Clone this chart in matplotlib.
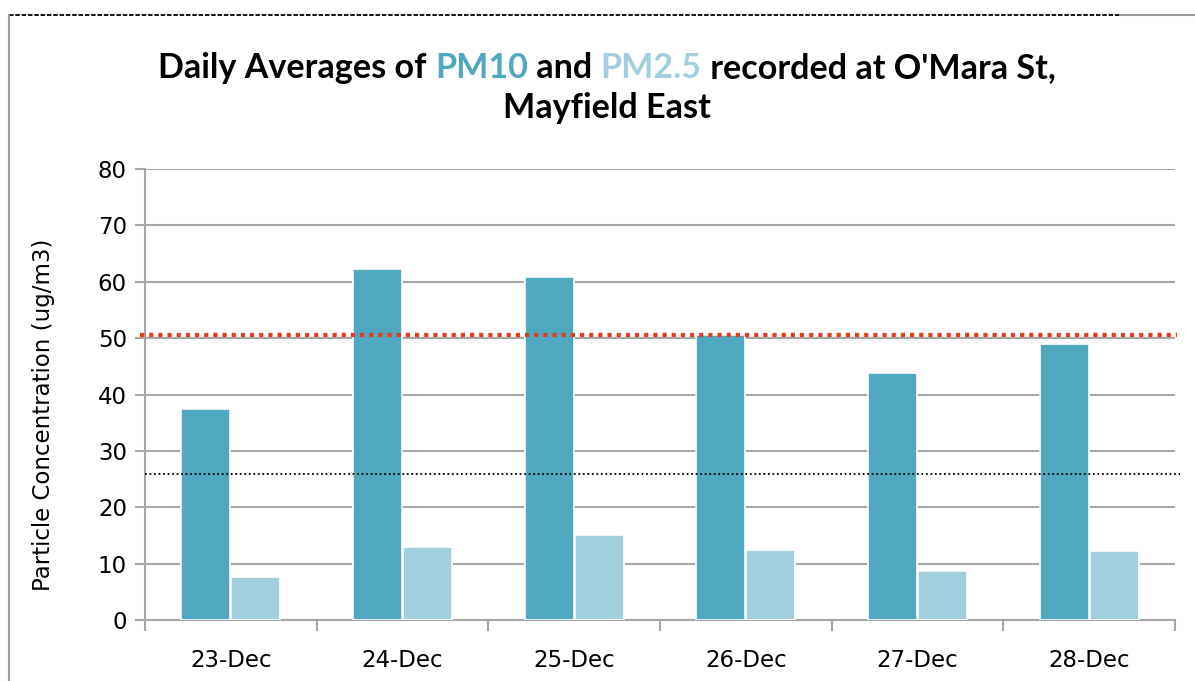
import matplotlib
matplotlib.use('Agg')
import matplotlib.pyplot as plt
from matplotlib.lines import Line2D
import numpy as np

days = ["23-Dec", "24-Dec", "25-Dec", "26-Dec", "27-Dec", "28-Dec"]
pm10 = [37.4, 62.2, 60.8, 50.5, 43.8, 48.9]
pm25 = [7.6, 12.9, 15.1, 12.4, 8.7, 12.2]
pm10_limit = 50.6
pm25_limit = 25.9
yticks = [0, 10, 20, 30, 40, 50, 60, 70, 80]

c10 = '#4fa8bf'
c25 = '#a2cfdd'
grid_c = '#a6a6a6'

fig = plt.figure(figsize=(11.95, 6.81), dpi=100)
ax = fig.add_axes([0.1213, 0.0896, 0.862, 0.6622])

x = np.arange(len(days))
w = 0.285
off = 0.145
ax.bar(x - off, pm10, width=w, color=c10, edgecolor='white', linewidth=1.2, zorder=3)
ax.bar(x + off, pm25, width=w, color=c25, edgecolor='white', linewidth=1.2, zorder=3)

trans = ax.get_yaxis_transform()
ax.plot([-0.005, 1.002], [pm10_limit] * 2, transform=trans, color='#e8391d',
        linestyle=(0, (1, 1.2)), linewidth=3, zorder=4, clip_on=False)
ax.plot([0, 1.005], [pm25_limit] * 2, transform=trans, color='black',
        linestyle=(0, (1, 1.5)), linewidth=1.3, zorder=4, clip_on=False)

ax.set_xlim(-0.5, len(days) - 0.5)
ax.set_ylim(0, 80)
ax.set_yticks(yticks)
ax.yaxis.grid(True, color=grid_c, linewidth=1.5, zorder=0)
ax.set_axisbelow(True)

ax.set_xticks(np.arange(-0.5, len(days)), labels=[''] * (len(days) + 1))
ax.set_xticks(x, labels=days, minor=True)
ax.tick_params(axis='x', which='major', length=8, width=1.5, color=grid_c, direction='out')
ax.tick_params(axis='x', which='minor', length=0, pad=21, labelsize=16.5)
ax.tick_params(axis='y', length=7, width=1.5, color=grid_c, labelsize=16.5, pad=6)

for s in ['top', 'right']:
    ax.spines[s].set_visible(False)
for s in ['left', 'bottom']:
    ax.spines[s].set_color(grid_c)
    ax.spines[s].set_linewidth(1.5)

ax.set_ylabel("Particle Concentration (ug/m3)", fontsize=16.5)
ax.yaxis.set_label_coords(-0.087, 0.455)

# title with coloured words
tfont = dict(family='Lato', weight='bold', size=24.6)
parts = [("Daily Averages of ", 'black'), ("PM10", c10), (" and ", 'black'),
         ("PM2.5", c25), (" recorded at O'Mara St,", 'black')]
fig.canvas.draw()
r = fig.canvas.get_renderer()
widths = []
for txt, col in parts:
    t = fig.text(0, 0, txt, **tfont)
    widths.append(t.get_window_extent(r).width)
    t.remove()
total = sum(widths)
xpix = 607 - total / 2
for (txt, col), wd in zip(parts, widths):
    fig.text(xpix / 1195, 1 - 68 / 681, txt, color=col, va='center', ha='left', **tfont)
    xpix += wd
fig.text(607 / 1195, 1 - 108 / 681, "Mayfield East", ha='center', va='center', **tfont)

# chart frame lines
fig.add_artist(Line2D([9 / 1195, 1120 / 1195], [1 - 15 / 681] * 2, color='black',
                      linestyle=(0, (2.5, 1)), linewidth=1.3))
fig.add_artist(Line2D([1120 / 1195, 1], [1 - 15 / 681] * 2, color='#999999', linewidth=1.5))
fig.add_artist(Line2D([9 / 1195] * 2, [1 - 15 / 681, 0], color='#999999', linewidth=1.5))

fig.savefig('out.png', dpi=100)
